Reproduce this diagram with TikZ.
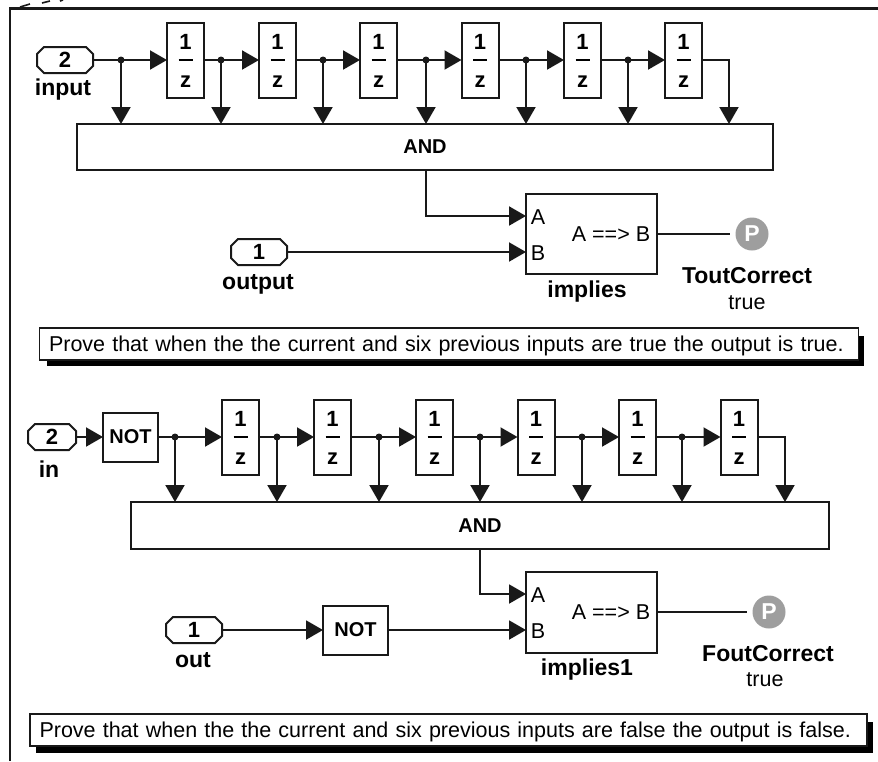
\documentclass[tikz,border=0pt]{standalone}
\usepackage{fontspec}
\setmainfont{Liberation Sans}
\usetikzlibrary{arrows.meta,shapes.misc}
\definecolor{wirecol}{gray}{0.1}
\definecolor{pgray}{gray}{0.62}
\tikzset{
  x=1pt,y=-1pt,
  bl/.style={font=\fontsize{23}{26}\selectfont\bfseries,inner sep=0pt},
  bk/.style={font=\fontsize{20}{24}\selectfont\bfseries,inner sep=0pt},
  dg/.style={font=\fontsize{22}{24}\selectfont\bfseries,inner sep=0pt},
  rg/.style={font=\fontsize{21.5}{24}\selectfont,inner sep=0pt},
  block/.style={draw=wirecol,fill=white,line width=2pt,inner sep=0pt,outer sep=0pt},
  delaybox/.style={block,minimum width=37pt,minimum height=75pt,
    label={[dg,yshift=18pt]center:1},label={[dg,yshift=-22pt]center:z}},
  inport/.style={draw=wirecol,fill=white,line width=2pt,chamfered rectangle,chamfered rectangle xsep=3.5pt,chamfered rectangle ysep=3.5pt,
    minimum width=56pt,minimum height=26pt,inner sep=0pt,outer sep=0pt,font=\fontsize{22}{24}\selectfont\bfseries},
  wire/.style={draw=wirecol,line width=2pt},
  arr/.style={wire,-{Triangle[length=17pt,width=19pt]}},
  jdot/.style={circle,fill=wirecol,minimum size=7pt,inner sep=0pt},
  note/.style={draw=wirecol,fill=white,line width=1.5pt,inner sep=0pt,outer sep=0pt,anchor=north west,align=left,
    font=\fontsize{21.5}{24}\selectfont},
  prop/.style={circle,fill=pgray,minimum size=33pt,inner sep=0pt,text=white,font=\fontsize{23}{24}\selectfont\bfseries},
}
\begin{document}
\begin{tikzpicture}
\useasboundingbox (0,0) rectangle (878,761);
\fill[white] (0,0) rectangle (878,761);
% frame
\draw[wirecol,line width=2.6pt] (10,761) -- (10,8.5) -- (878,8.5);
\draw[wirecol,line width=1.6pt] (20,7) -- (30,4) (42,3) -- (50,1) (60,1) -- (63,0);

% ---- upper model
\node[inport] (in1) at (65,60) {2};
\node[bl] (in1l) at (63,90) {input};
\foreach \n/\x in {1/185.5,2/277.5,3/378.5,4/480,5/582.5,6/683.5}
  \node[delaybox] (a\n) at (\x,60) {\rule{14pt}{2pt}};
\node[block,minimum width=696pt,minimum height=46pt,bk] (and1) at (425,147) {AND};
\foreach \n/\x in {1/121,2/221,3/323,4/426,5/526,6/628,7/729}
  \coordinate (ja\n) at (\x,60);
\draw[arr] (in1.east) -- (a1.west);
\draw[arr] (a1.east) -- (a2.west);
\draw[arr] (a2.east) -- (a3.west);
\draw[arr] (a3.east) -- (a4.west);
\draw[arr] (a4.east) -- (a5.west);
\draw[arr] (a5.east) -- (a6.west);
\foreach \n in {1,...,6}{
  \draw[arr] (ja\n) -- (ja\n |- and1.north);
  \node[jdot] at (ja\n) {};
}
\draw[arr] (a6.east) -- (ja7) -- (ja7 |- and1.north);
\node[block,minimum width=131pt,minimum height=80pt] (imp1) at (591.5,234) {};
\coordinate (imp1A) at (526,216);
\coordinate (imp1B) at (526,252);
\node[rg] at (538,217) {A};
\node[rg] at (538,253) {B};
\node[rg] at (611,234) {A ==> B};
\node[bl] (imp1l) at (587,292) {implies};
\draw[arr] (ja4 |- and1.south) |- (imp1A);
\node[inport] (out1) at (259,252) {1};
\node[bl] (out1l) at (258,284) {output};
\draw[arr] (out1.east) -- (imp1B);
\node[prop] (p1) at (752,234) {P};
\draw[wire,shorten >=5pt] (imp1.east) -- (p1.west);
\node[bl] (p1l) at (747,276) {ToutCorrect};
\node[rg] (p1t) at (747,303) {true};
\fill[black] (47,336) rectangle (864,366);
\node[note,minimum width=819pt,minimum height=32pt,text width=812pt,text depth=0pt] (note1) at (39.5,328) {\hspace*{6pt}Prove that when the the current and six previous inputs are true the output is true.};

% ---- lower model
\node[inport,minimum width=48pt] (in2) at (52,437) {2};
\node[bl] (in2l) at (49,469) {in};
\node[block,bk,minimum width=55pt,minimum height=49pt] (not2) at (130.5,437) {NOT};
\foreach \n/\x in {1/240.5,2/332.5,3/434.5,4/536,5/637.5,6/739}
  \node[delaybox] (b\n) at (\x,437) {\rule{14pt}{2pt}};
\node[block,minimum width=698pt,minimum height=47pt,bk] (and2) at (480,525.5) {AND};
\foreach \n/\x in {1/175,2/277,3/379,4/480,5/582,6/682,7/785}
  \coordinate (jb\n) at (\x,437);
\draw[arr] (in2.east) -- (not2.west);
\draw[arr] (not2.east) -- (b1.west);
\draw[arr] (b1.east) -- (b2.west);
\draw[arr] (b2.east) -- (b3.west);
\draw[arr] (b3.east) -- (b4.west);
\draw[arr] (b4.east) -- (b5.west);
\draw[arr] (b5.east) -- (b6.west);
\foreach \n in {1,...,6}{
  \draw[arr] (jb\n) -- (jb\n |- and2.north);
  \node[jdot] at (jb\n) {};
}
\draw[arr] (b6.east) -- (jb7) -- (jb7 |- and2.north);
\node[block,minimum width=131pt,minimum height=81pt] (imp2) at (591.5,612) {};
\coordinate (imp2A) at (526,594);
\coordinate (imp2B) at (526,630);
\node[rg] at (538,595) {A};
\node[rg] at (538,631) {B};
\node[rg] at (611,612) {A ==> B};
\node[bl] (imp2l) at (587,670) {implies1};
\draw[arr] (jb4 |- and2.south) |- (imp2A);
\node[inport] (out2) at (194,630) {1};
\node[bl] (out2l) at (193,660) {out};
\node[block,bk,minimum width=65pt,minimum height=49pt] (not3) at (355.5,630) {NOT};
\draw[arr] (out2.east) -- (not3.west);
\draw[arr] (not3.east) -- (imp2B);
\node[prop] (p2) at (769,612) {P};
\draw[wire,shorten >=5pt] (imp2.east) -- (p2.west);
\node[bl] (p2l) at (768,654) {FoutCorrect};
\node[rg] (p2t) at (765,680) {true};
\fill[black] (36,722) rectangle (873,753);
\node[note,minimum width=837pt,minimum height=32pt,text width=830pt,text depth=0pt] (note2) at (30,714) {\hspace*{6pt}Prove that when the the current and six previous inputs are false the output is false.};
\end{tikzpicture}
\end{document}
